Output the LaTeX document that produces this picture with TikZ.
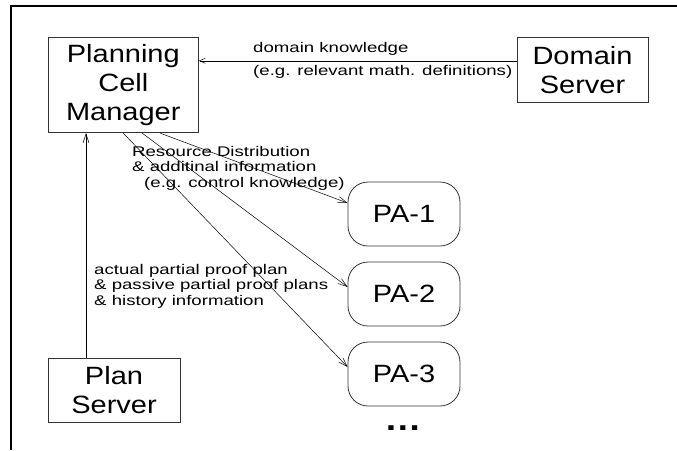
\documentclass[tikz,border=0pt]{standalone}
\usepackage{fontspec}
\setmainfont{Liberation Sans}
\newfontfamily\boxfont{Liberation Sans}[FakeStretch=1.16]
\newfontfamily\notefont{Liberation Sans}[FakeStretch=1.33]
\usetikzlibrary{arrows.meta}
\tikzset{
  unit/.style={draw=black!80, line width=0.8pt, inner sep=0pt, align=center,
    font=\boxfont\fontsize{25}{29}\selectfont},
  agent/.style={unit, rounded corners=20pt, minimum width=112pt, minimum height=64pt},
  note/.style={inner sep=0pt, align=left, font=\notefont\fontsize{14}{15.5}\selectfont},
  flow/.style={-{Straight Barb[length=9pt,width=6pt]}, line width=0.5pt},
}
\begin{document}
\begin{tikzpicture}[x=1pt,y=-1pt]
  \useasboundingbox (0,0) rectangle (677,450);
  \draw[line width=2pt] (11,450) -- (11,6) -- (677,6);
  \draw
    (123.3,85.3) node[unit, minimum width=150pt, minimum height=95pt] (pcm){Planning\\Cell\\Manager}
    (582.5,69.8) node[unit, minimum width=131pt, minimum height=64.5pt] (dom){Domain\\Server}
    (114,390) node[unit, minimum width=132pt, minimum height=64pt] (plan){Plan\\Server}
    (404,214) node[agent] (pa1){PA-1}
    (404,294) node[agent] (pa2){PA-2}
    (404,374) node[agent] (pa3){PA-3}
    (403,428) node[font=\boxfont\fontsize{32}{36}\selectfont\bfseries] (more){\ldots};
  \path
    (253,49) node[note, anchor=west] (dk){domain knowledge}
    (253,72) node[note, anchor=west] (dkex){(e.g. relevant math. definitions)}
    (132,168) node[note, anchor=west] (res){Resource Distribution\\
      \& additinal information\\\hspace{12pt}(e.g. control knowledge)}
    (94,286) node[note, anchor=west] (hist){actual partial proof plan\\
      \& passive partial proof plans\\\& history information};
  \begin{scope}[flow]
    \draw[-{Straight Barb[length=6pt,width=5pt]}] ([yshift=9pt]dom.west) to ([yshift=9pt]dom.west -| pcm.east);
    \draw ([xshift=-28pt]plan.north) to ([xshift=-28pt]plan.north |- pcm.south);
    \draw ([xshift=37pt]pcm.south) to ([yshift=11pt]pa1.west);
    \draw ([xshift=19pt]pcm.south) to ([yshift=7pt]pa2.west);
    \draw (pcm.south) to ([yshift=7pt]pa3.west);
  \end{scope}
\end{tikzpicture}
\end{document}
